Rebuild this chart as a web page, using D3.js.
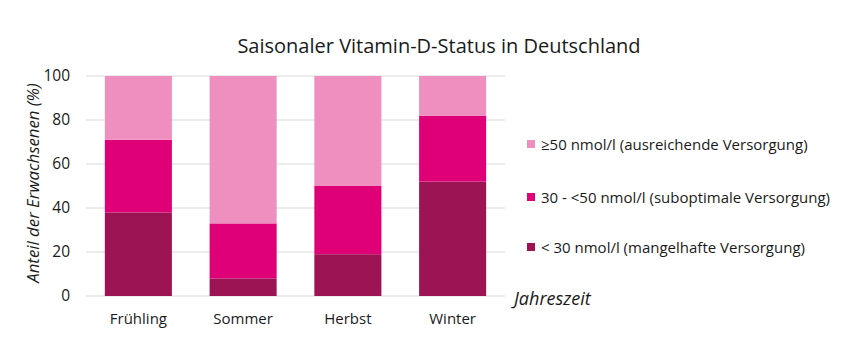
<!DOCTYPE html>
<html><head><meta charset="utf-8">
<script src="https://cdn.jsdelivr.net/npm/d3@7/dist/d3.min.js"></script>
<style>body{margin:0;background:#fff}svg{display:block}text{font-family:"Open Sans",sans-serif;fill:#1a1a1a}</style>
</head><body><svg id="c" width="847" height="350"></svg>
<script>
const categories = ["Frühling", "Sommer", "Herbst", "Winter"];
const seriesNames = ["< 30 nmol/l (mangelhafte Versorgung)", "30 - <50 nmol/l (suboptimale Versorgung)", "≥50 nmol/l (ausreichende Versorgung)"];
const mangelhaft = [38, 8, 19, 52];
const suboptimal = [33, 25, 31, 30];
const ausreichend = [29, 67, 50, 18];
const yTicks = [0, 20, 40, 60, 80, 100];
const colors = ["#9c1454", "#df0078", "#ee8fbf"];

const svg = d3.select("#c");
const x = d3.scaleBand().domain(categories).range([86, 505]).paddingInner(0.36).paddingOuter(0.18);
const y = d3.scaleLinear().domain([0, 100]).range([296, 76]);

const rows = categories.map((c, i) => ({cat: c, s0: mangelhaft[i], s1: suboptimal[i], s2: ausreichend[i]}));
const stacked = d3.stack().keys(["s0", "s1", "s2"])(rows);

// gridlines
svg.append("g").selectAll("line").data(yTicks).join("line")
  .attr("x1", 86).attr("x2", 505).attr("y1", d => y(d)).attr("y2", d => y(d))
  .attr("stroke", "#d9d9d9").attr("stroke-width", 1);

svg.append("g").selectAll("g").data(stacked).join("g").attr("fill", (d, i) => colors[i])
  .selectAll("rect").data(d => d).join("rect")
  .attr("x", d => x(d.data.cat)).attr("width", x.bandwidth())
  .attr("y", d => y(d[1])).attr("height", d => y(d[0]) - y(d[1]));

// y tick labels
svg.append("g").selectAll("text").data(yTicks).join("text")
  .attr("x", 70).attr("y", d => y(d)).attr("dy", "0.35em").attr("text-anchor", "end")
  .attr("font-size", 15.5).text(d => d);

// x labels
svg.append("g").selectAll("text").data(categories).join("text")
  .attr("x", d => x(d) + x.bandwidth() / 2).attr("y", 324).attr("text-anchor", "middle")
  .attr("font-size", 15).text(d => d);

// axis titles
const yTitle = "Anteil der Erwachsenen (%)";
svg.append("text").attr("transform", "translate(39,183) rotate(-90)").attr("text-anchor", "middle")
  .attr("font-size", 16.8).attr("font-style", "italic").attr("fill", "#666").text(yTitle);
svg.append("text").attr("x", 514).attr("y", 305).attr("font-size", 18).attr("font-style", "italic").text("Jahreszeit");

// title
svg.append("text").attr("x", 439).attr("y", 53).attr("text-anchor", "middle").attr("font-size", 20).text("Saisonaler Vitamin-D-Status in Deutschland");

// legend
const legY = [248, 198, 145];
const leg = svg.append("g").selectAll("g").data(seriesNames).join("g")
  .attr("transform", (d, i) => `translate(527,${legY[i]})`);
leg.append("rect").attr("x", 0).attr("y", -5).attr("width", 8).attr("height", 8).attr("fill", (d, i) => colors[i]);
leg.append("text").attr("x", 14).attr("y", 0).attr("dy", "0.35em").attr("font-size", 15).text(d => d);
</script></body></html>
